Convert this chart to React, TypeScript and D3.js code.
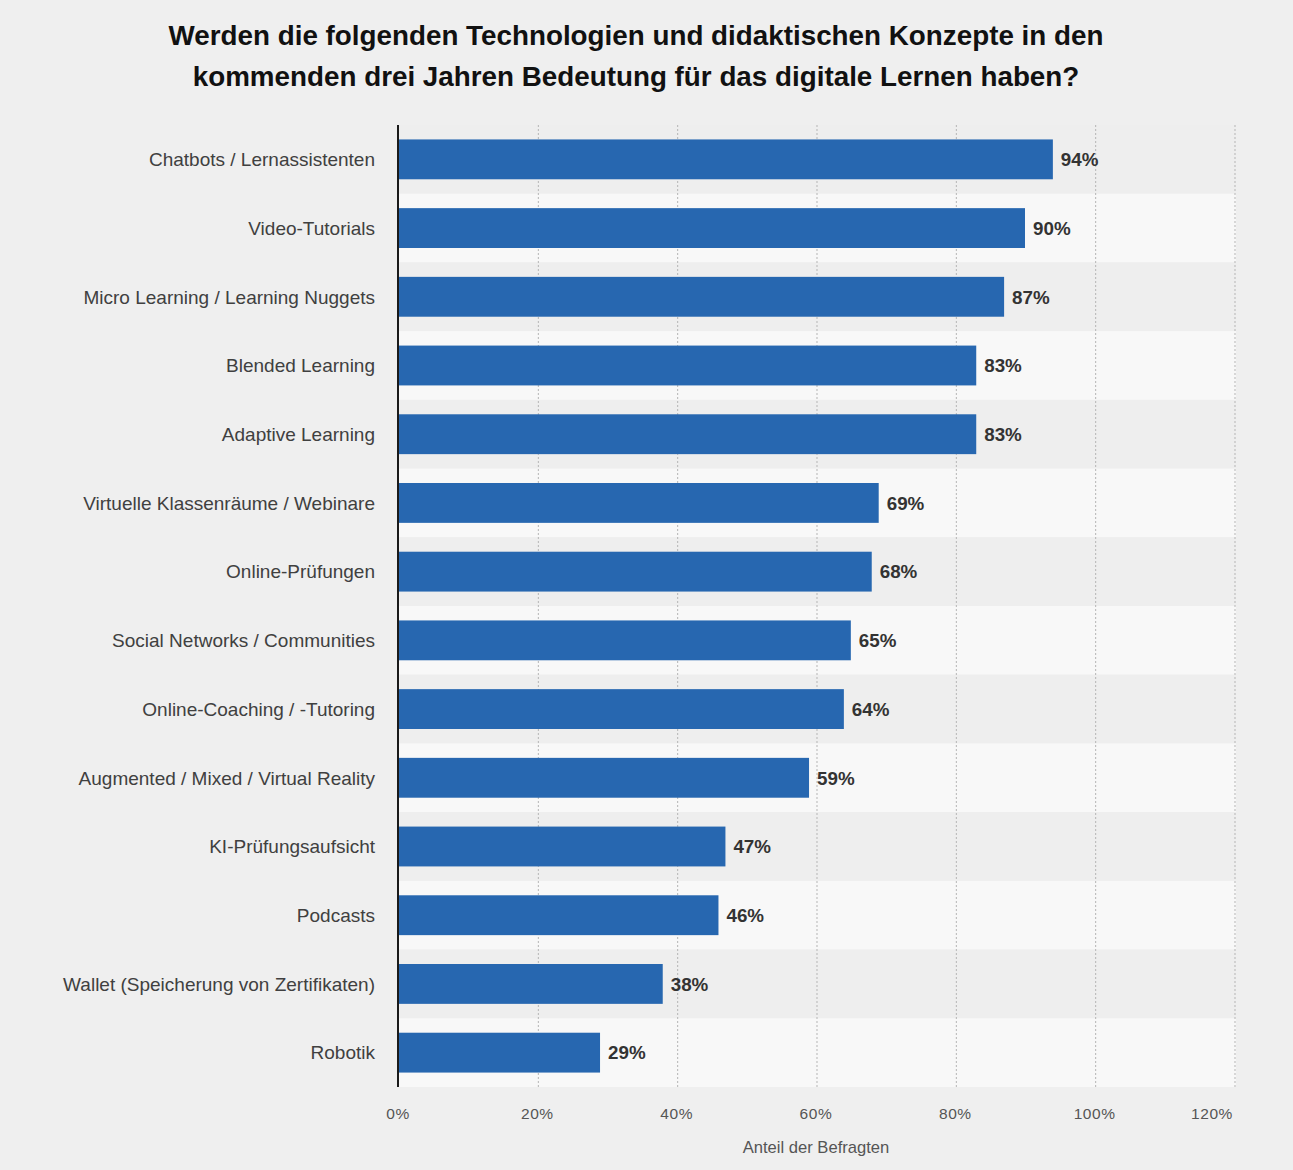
import React, { useEffect, useRef } from 'react';
import * as d3 from 'd3';

// Categories (top to bottom) and share of respondents in percent
const categories: string[] = [
    'Chatbots / Lernassistenten',
    'Video-Tutorials',
    'Micro Learning / Learning Nuggets',
    'Blended Learning',
    'Adaptive Learning',
    'Virtuelle Klassenräume / Webinare',
    'Online-Prüfungen',
    'Social Networks / Communities',
    'Online-Coaching / -Tutoring',
    'Augmented / Mixed / Virtual Reality',
    'KI-Prüfungsaufsicht',
    'Podcasts',
    'Wallet (Speicherung von Zertifikaten)',
    'Robotik',
];
const values: number[] = [94, 90, 87, 83, 83, 69, 68, 65, 64, 59, 47, 46, 38, 29];
const xTicks: number[] = [0, 20, 40, 60, 80, 100, 120];

const titleLines = [
    'Werden die folgenden Technologien und didaktischen Konzepte in den',
    'kommenden drei Jahren Bedeutung für das digitale Lernen haben?',
];
const axisTitle = 'Anteil der Befragten';

const App: React.FC = () => {
    const svgRef = useRef<SVGSVGElement>(null);

    useEffect(() => {
        if (!svgRef.current) return;
        const svg = d3.select(svgRef.current);
        svg.selectAll('*').remove();

        const W = 1293, H = 1170;
        const margin = { top: 125, right: 59, bottom: 83, left: 398 };
        const width = W - margin.left - margin.right;
        const height = H - margin.top - margin.bottom;
        const font = '"Liberation Sans", Arial, Helvetica, sans-serif';

        svg.append('rect').attr('width', W).attr('height', H).attr('fill', '#efefef');

        // title
        svg.append('g').selectAll('text')
            .data(titleLines)
            .join('text')
            .attr('x', 636)
            .attr('y', (_, i) => 45 + i * 41)
            .attr('text-anchor', 'middle')
            .attr('font-family', font)
            .attr('font-weight', 'bold')
            .attr('font-size', 27.8)
            .attr('fill', '#111')
            .text(d => d);

        const x = d3.scaleLinear().domain([0, 120]).range([0, width]);
        const yRow = d3.scaleBand<string>().domain(categories).range([0, height]);
        const y = d3.scaleBand<string>().domain(categories).range([0, height]).paddingInner(0.42).paddingOuter(0.21);

        const g = svg.append('g').attr('transform', `translate(${margin.left},${margin.top})`);

        // alternating row stripes
        g.append('g').selectAll('rect')
            .data(categories)
            .join('rect')
            .attr('x', 0)
            .attr('y', d => yRow(d)!)
            .attr('width', width + 2)
            .attr('height', yRow.bandwidth())
            .attr('fill', (_, i) => (i % 2 === 0 ? '#eeeeee' : '#f8f8f8'));

        // dotted gridlines
        g.append('g').selectAll('line')
            .data(xTicks.slice(1))
            .join('line')
            .attr('x1', d => x(d) + 1).attr('x2', d => x(d) + 1)
            .attr('y1', 0).attr('y2', height)
            .attr('stroke', '#b5b5b5')
            .attr('stroke-width', 1)
            .attr('stroke-dasharray', '2,2');

        // bars
        g.append('g').selectAll('rect')
            .data(values)
            .join('rect')
            .attr('x', 0)
            .attr('y', (_, i) => y(categories[i])!)
            .attr('width', d => x(d))
            .attr('height', y.bandwidth())
            .attr('fill', '#2767b0');

        // value labels
        g.append('g').selectAll('text')
            .data(values)
            .join('text')
            .attr('x', d => x(d) + 8)
            .attr('y', (_, i) => y(categories[i])! + y.bandwidth() / 2)
            .attr('dy', '0.36em')
            .attr('font-family', font)
            .attr('font-weight', 'bold')
            .attr('font-size', 18.8)
            .attr('fill', '#333')
            .text(d => `${d}%`);

        // category labels
        g.append('g').selectAll('text')
            .data(categories)
            .join('text')
            .attr('x', -23)
            .attr('y', d => y(d)! + y.bandwidth() / 2)
            .attr('dy', '0.36em')
            .attr('text-anchor', 'end')
            .attr('font-family', font)
            .attr('font-size', 19)
            .attr('fill', '#404040')
            .text(d => d);

        // y axis line
        g.append('line')
            .attr('x1', 0).attr('x2', 0)
            .attr('y1', 0).attr('y2', height)
            .attr('stroke', '#1a1a1a')
            .attr('stroke-width', 2);

        // x tick labels
        g.append('g').selectAll('text')
            .data(xTicks)
            .join('text')
            .attr('x', (d, i) => (i === xTicks.length - 1 ? x(d) - 1 : x(d)))
            .attr('y', height + 32)
            .attr('text-anchor', (_, i) => (i === xTicks.length - 1 ? 'end' : 'middle'))
            .attr('font-family', font)
            .attr('font-size', 15.5)
            .attr('letter-spacing', 0.6)
            .attr('fill', '#555')
            .text(d => `${d}%`);

        // x axis title
        g.append('text')
            .attr('x', width / 2)
            .attr('y', height + 66)
            .attr('text-anchor', 'middle')
            .attr('font-family', font)
            .attr('font-size', 16.6)
            .attr('fill', '#555')
            .text(axisTitle);
    }, []);

    return (
        <div style={{ position: 'absolute', left: 0, top: 0 }}>
            <svg ref={svgRef} width={1293} height={1170} style={{ display: 'block' }}></svg>
        </div>
    );
};

export default App;
